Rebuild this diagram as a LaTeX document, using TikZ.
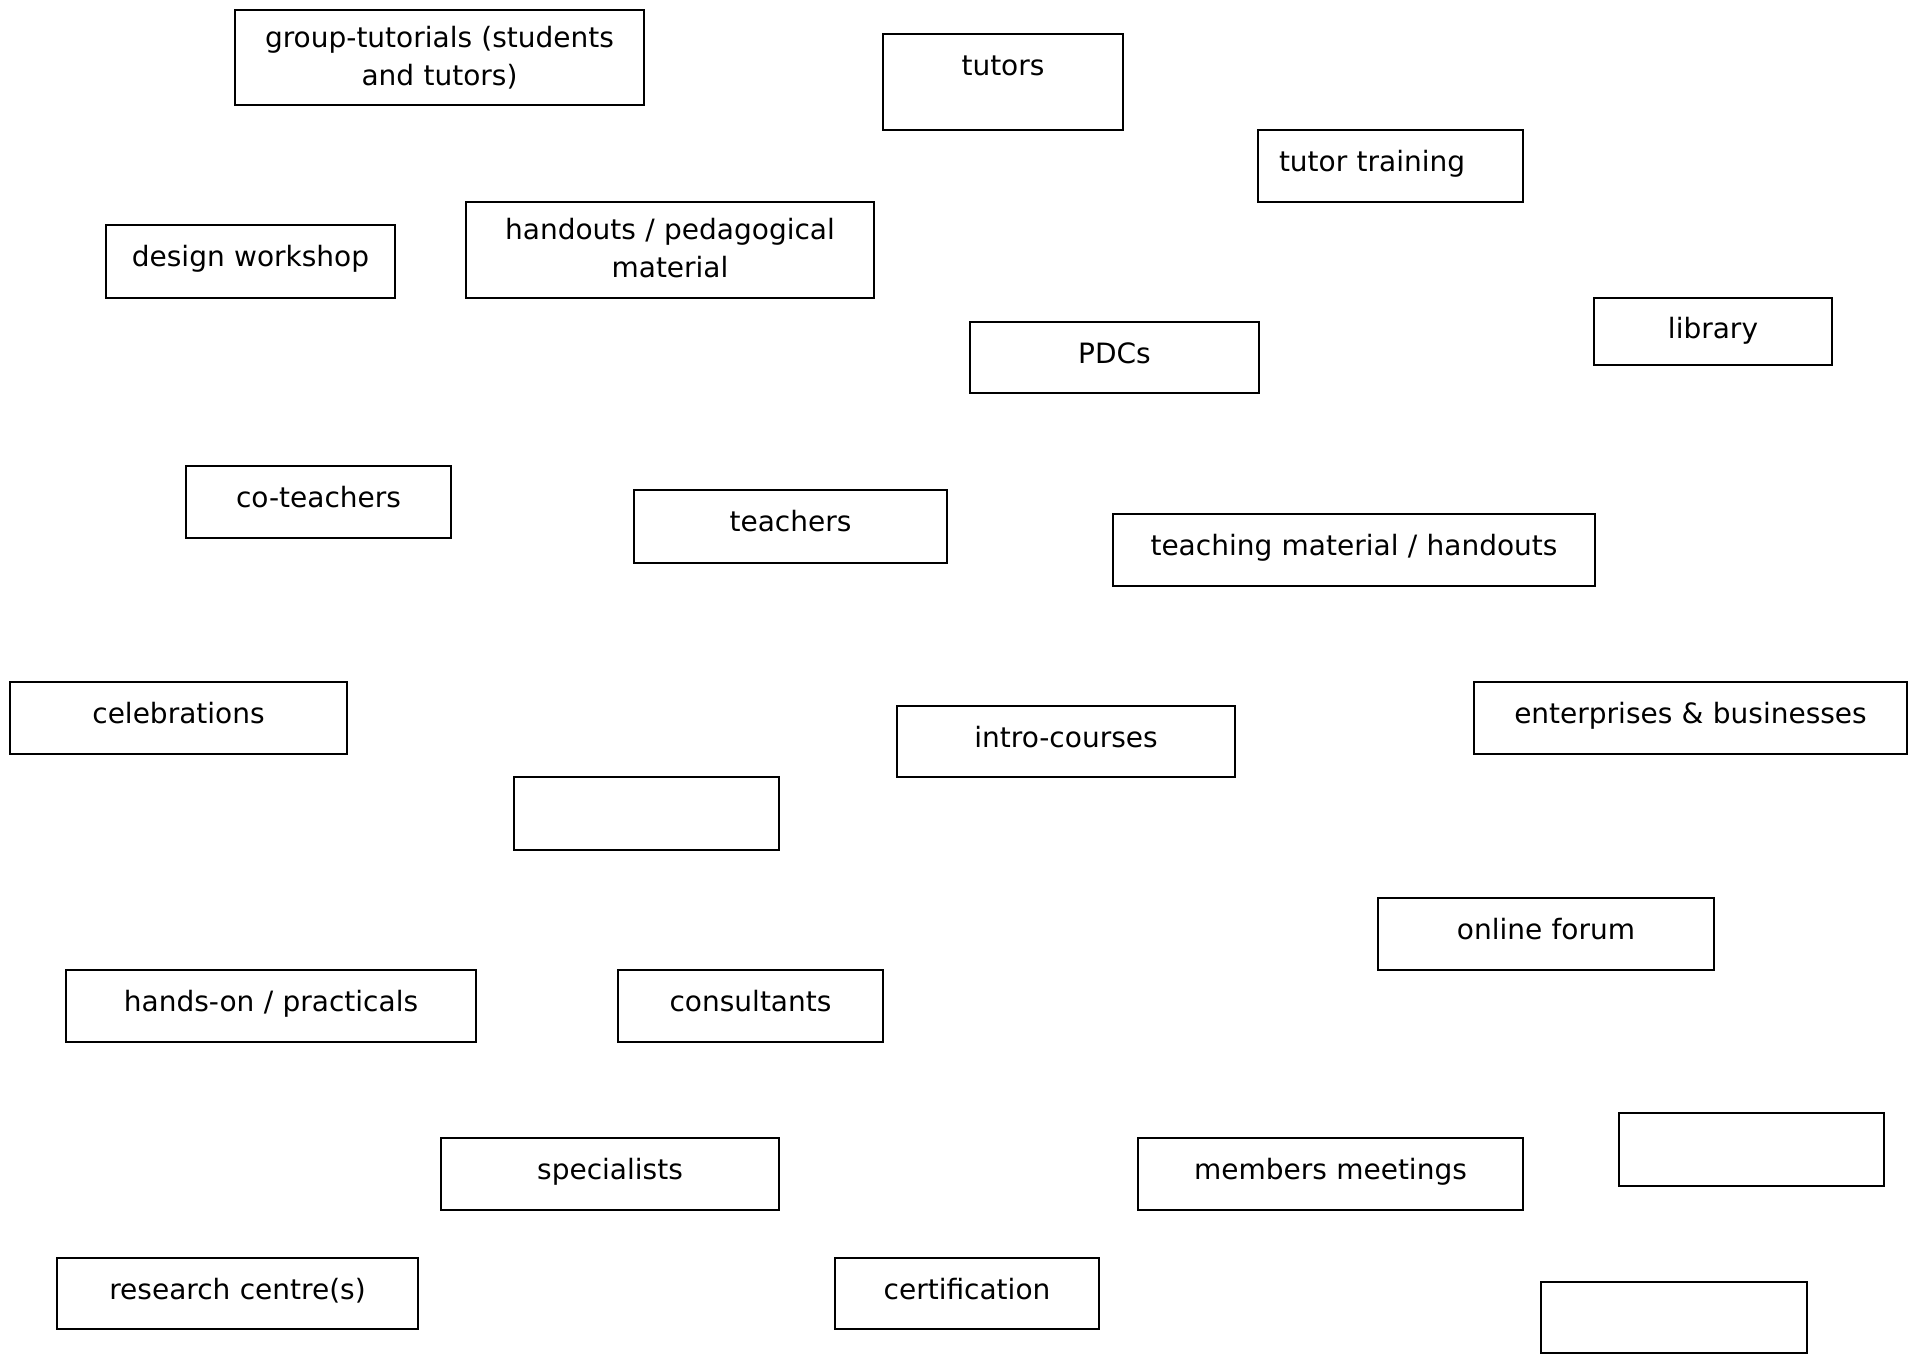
\documentclass[tikz,border=0pt]{standalone}
\usepackage{fontspec}
\setmainfont{DejaVu Sans}
\begin{document}
\begin{tikzpicture}[x=1pt,y=-1pt,
  box/.style={draw, line width=2pt, inner sep=0pt, anchor=north west, align=center,
    font=\fontsize{28}{38}\selectfont},
  one/.style={text height=41pt, text depth=#1},
]
\useasboundingbox (0,0) rectangle (1923,1353);
\node[box, text width=409pt, text height=37pt, text depth=58pt] (group) at (234,9) {group-tutorials (students\\and tutors)};
\node[box, text width=240pt, one=55pt] (tutors) at (882,33) {tutors};
\node[box, text width=265pt, one=31pt, align=left] (tutortr) at (1257,129) {\hspace*{21pt}tutor training};
\node[box, text width=289pt, one=32pt] (design) at (105,224) {design workshop};
\node[box, text width=408pt, text height=37pt, text depth=59pt] (handouts) at (465,201) {handouts / pedagogical\\material};
\node[box, text width=289pt, one=30pt] (pdcs) at (969,321) {PDCs};
\node[box, text width=238pt, text height=40pt, text depth=27pt] (library) at (1593,297) {library};
\node[box, text width=265pt, one=31pt] (coteach) at (185,465) {co-teachers};
\node[box, text width=313pt, one=32pt] (teachers) at (633,489) {teachers};
\node[box, text width=482pt, one=31pt] (teachmat) at (1112,513) {teaching material / handouts};
\node[box, text width=337pt, one=31pt] (celeb) at (9,681) {celebrations};
\node[box, text width=338pt, one=30pt] (intro) at (896,705) {intro-courses};
\node[box, text width=433pt, one=31pt] (enterpr) at (1473,681) {enterprises \& businesses};
\node[box, text width=265pt, text height=0pt, text depth=73pt] (empty1) at (513,776) {};
\node[box, text width=336pt, one=31pt] (forum) at (1377,897) {online forum};
\node[box, text width=410pt, one=31pt] (handson) at (65,969) {hands-on / practicals};
\node[box, text width=265pt, one=31pt] (consult) at (617,969) {consultants};
\node[box, text width=338pt, one=31pt] (special) at (440,1137) {specialists};
\node[box, text width=385pt, one=31pt] (members) at (1137,1137) {members meetings};
\node[box, text width=265pt, text height=0pt, text depth=73pt] (empty2) at (1618,1112) {};
\node[box, text width=361pt, one=30pt] (research) at (56,1257) {research centre(s)};
\node[box, text width=264pt, one=30pt] (cert) at (834,1257) {certification};
\node[box, text width=266pt, text height=0pt, text depth=71pt] (empty3) at (1540,1281) {};
\end{tikzpicture}
\end{document}
